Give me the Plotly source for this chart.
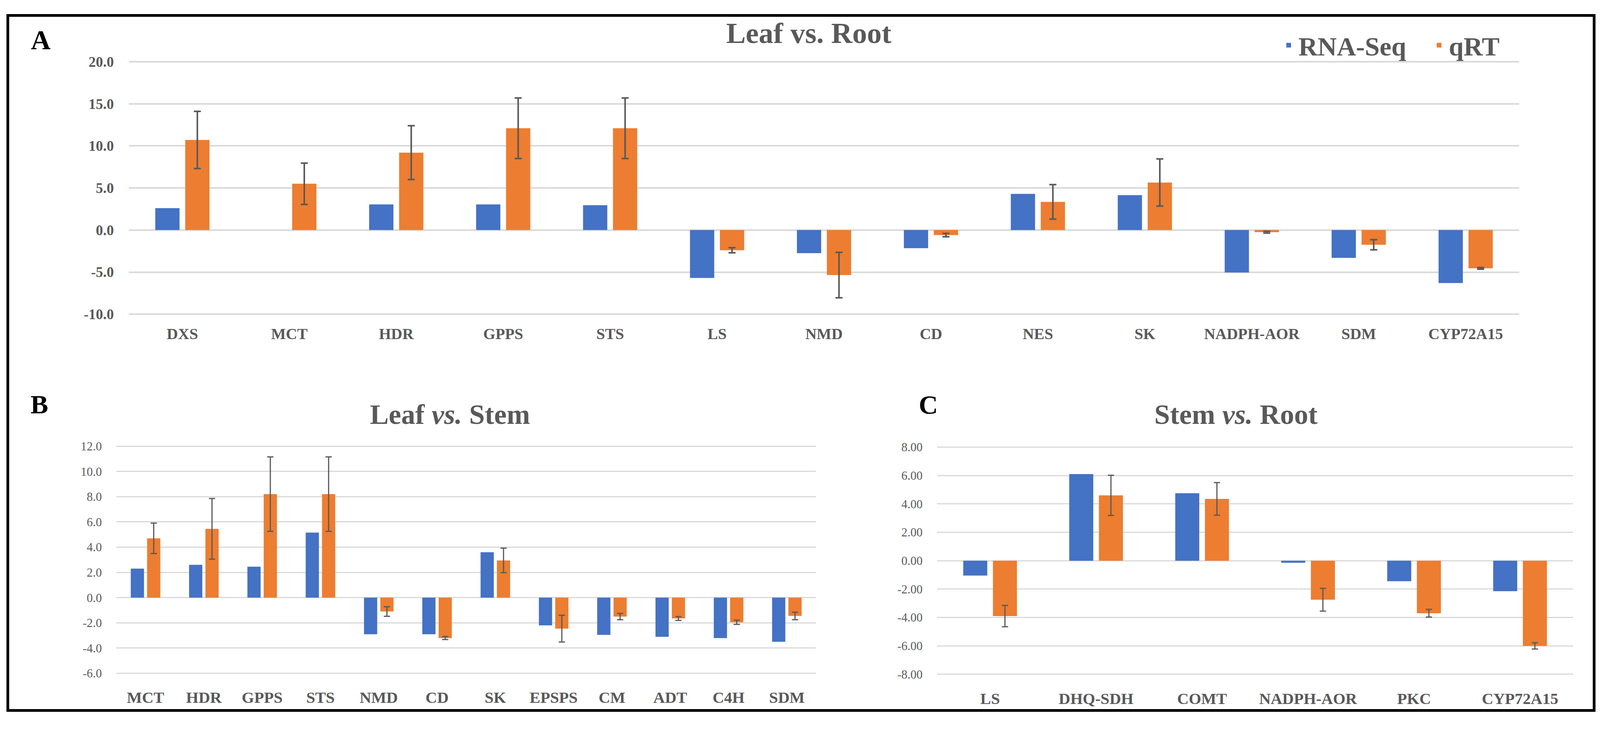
import plotly.graph_objects as go

W, H = 4104, 1866

# ---------------- data ----------------
series_names = ["RNA-Seq", "qRT"]
series_colors = ["#4472C4", "#ED7D31"]

# Panel A: Leaf vs. Root
a_genes = ["DXS", "MCT", "HDR", "GPPS", "STS", "LS", "NMD", "CD", "NES", "SK",
           "NADPH-AOR", "SDM", "CYP72A15"]
a_rnaseq = [2.6, 0.0, 3.05, 3.05, 2.95, -5.7, -2.75, -2.15, 4.3, 4.15, -5.05, -3.3, -6.3]
a_qrt = [10.7, 5.5, 9.2, 12.1, 12.1, -2.4, -5.35, -0.6, 3.35, 5.65, -0.25, -1.75, -4.55]
a_qrt_err = [3.4, 2.45, 3.2, 3.6, 3.6, 0.3, 2.7, 0.2, 2.05, 2.8, 0.1, 0.6, 0.1]
a_tickvals = [-10, -5, 0, 5, 10, 15, 20]
a_ticktext = ["-10.0", "-5.0", "0.0", "5.0", "10.0", "15.0", "20.0"]

# Panel B: Leaf vs. Stem
b_genes = ["MCT", "HDR", "GPPS", "STS", "NMD", "CD", "SK", "EPSPS", "CM", "ADT", "C4H", "SDM"]
b_rnaseq = [2.3, 2.6, 2.45, 5.15, -2.9, -2.9, 3.6, -2.2, -2.95, -3.1, -3.2, -3.5]
b_qrt = [4.7, 5.45, 8.2, 8.2, -1.1, -3.2, 2.95, -2.45, -1.5, -1.65, -1.95, -1.45]
b_qrt_err = [1.2, 2.4, 2.95, 2.95, 0.38, 0.12, 0.97, 1.06, 0.25, 0.15, 0.17, 0.3]
b_tickvals = [-6, -4, -2, 0, 2, 4, 6, 8, 10, 12]
b_ticktext = ["-6.0", "-4.0", "-2.0", "0.0", "2.0", "4.0", "6.0", "8.0", "10.0", "12.0"]

# Panel C: Stem vs. Root
c_genes = ["LS", "DHQ-SDH", "COMT", "NADPH-AOR", "PKC", "CYP72A15"]
c_rnaseq = [-1.05, 6.1, 4.75, -0.15, -1.45, -2.15]
c_qrt = [-3.9, 4.6, 4.35, -2.75, -3.7, -6.0]
c_qrt_err = [0.75, 1.42, 1.15, 0.8, 0.27, 0.22]
c_tickvals = [-8, -6, -4, -2, 0, 2, 4, 6, 8]
c_ticktext = ["-8.00", "-6.00", "-4.00", "-2.00", "0.00", "2.00", "4.00", "6.00", "8.00"]

# ---------------- helpers ----------------
SERIF = "Liberation Serif, Times New Roman, serif"
GRAY = "#595959"


def xdom(left_px, right_px):
    return [left_px / W, right_px / W]


def ydom(zero_px, ppu, lo, hi):
    top = zero_px - hi * ppu
    bot = zero_px - lo * ppu
    return [1 - bot / H, 1 - top / H], [lo, hi]


fig = go.Figure()

panels = [
    ("x", "y", a_genes, a_rnaseq, a_qrt, a_qrt_err, True, 4, 9),
    ("x2", "y2", b_genes, b_rnaseq, b_qrt, b_qrt_err, False, 3, 8),
    ("x3", "y3", c_genes, c_rnaseq, c_qrt, c_qrt_err, False, 3, 8),
]

for xa, ya, genes, rna, qrt, err, show, eth, ewid in panels:
    fig.add_trace(go.Bar(
        x=genes, y=rna, name=series_names[0], marker_color=series_colors[0],
        marker_line_width=0, xaxis=xa, yaxis=ya, showlegend=show,
        legendgroup=series_names[0]))
    fig.add_trace(go.Bar(
        x=genes, y=qrt, name=series_names[1], marker_color=series_colors[1],
        marker_line_width=0, xaxis=xa, yaxis=ya, showlegend=show,
        legendgroup=series_names[1],
        error_y=dict(type="data", array=err, visible=True, color=GRAY,
                     thickness=eth, width=ewid)))

ya_dom, ya_rng = ydom(582, 22.0, -10.05, 20.05)
yb_dom, yb_rng = ydom(1543, 33.0, -6.04, 12.04)
yc_dom, yc_rng = ydom(1446.4, 37.12, -8.04, 8.04)

common_y = dict(showline=False, zeroline=False, showgrid=True, gridcolor="#D9D9D9",
                ticks="outside", tickcolor="rgba(0,0,0,0)", ticklen=30)
common_x = dict(type="category", showline=False, zeroline=False, showgrid=False,
                ticks="outside", tickcolor="rgba(0,0,0,0)")

fig.update_layout(
    width=W, height=H,
    margin=dict(l=0, r=0, t=0, b=0),
    paper_bgcolor="white", plot_bgcolor="white",
    barmode="group", bargap=0.44, bargroupgap=0.19,
    font=dict(family=SERIF, color=GRAY),
    xaxis=dict(domain=xdom(330, 3889), anchor="y", ticklen=14,
               tickfont=dict(family=SERIF, size=40, color=GRAY, weight="bold"), **common_x),
    yaxis=dict(domain=ya_dom, range=ya_rng, anchor="x", gridwidth=4,
               tickvals=a_tickvals, ticktext=a_ticktext,
               tickfont=dict(family=SERIF, size=37, color=GRAY, weight="bold"), **common_y),
    xaxis2=dict(domain=xdom(298, 2089), anchor="y2", ticklen=24,
                tickfont=dict(family=SERIF, size=41, color=GRAY, weight="bold"), **common_x),
    yaxis2=dict(domain=yb_dom, range=yb_rng, anchor="x2", gridwidth=3,
                tickvals=b_tickvals, ticktext=b_ticktext,
                tickfont=dict(family=SERIF, size=31, color=GRAY), **common_y),
    xaxis3=dict(domain=xdom(2399, 4027), anchor="y3", ticklen=24,
                tickfont=dict(family=SERIF, size=41, color=GRAY, weight="bold"), **common_x),
    yaxis3=dict(domain=yc_dom, range=yc_rng, anchor="x3", gridwidth=3,
                tickvals=c_tickvals, ticktext=c_ticktext,
                tickfont=dict(family=SERIF, size=31, color=GRAY), **common_y),
    legend=dict(orientation="h", x=3274 / W, xanchor="left", y=1 - 99 / H, yanchor="middle",
                font=dict(family=SERIF, size=68, color=GRAY, weight="bold"),
                bgcolor="rgba(0,0,0,0)", itemwidth=40, traceorder="normal",
                entrywidth=330, entrywidthmode="pixels"),
    showlegend=True,
)

annots = [
    ("<b>Leaf vs. Root</b>", 2070, 67, 75, GRAY),
    ("<b>Leaf <i>vs.</i> Stem</b>", 1152, 1064, 72, GRAY),
    ("<b>Stem <i>vs.</i> Root</b>", 3164, 1064, 72, GRAY),
    ("<b>A</b>", 104, 85, 70, "black"),
    ("<b>B</b>", 100, 1038, 68, "black"),
    ("<b>C</b>", 2376, 1039, 68, "black"),
]
for text, px, py, size, color in annots:
    fig.add_annotation(text=text, x=px / W, y=1 - py / H, xref="paper", yref="paper",
                       xanchor="center", yanchor="middle", showarrow=False,
                       font=dict(family=SERIF, size=size, color=color))

# outer frame
fig.add_shape(type="rect", xref="paper", yref="paper",
              x0=20 / W, x1=4081 / W, y0=1 - 1838 / H, y1=1 - 21 / H,
              line=dict(color="black", width=7), fillcolor="rgba(0,0,0,0)")

fig.write_html("out.html", config={"displayModeBar": False},
               post_script="document.body.style.margin='0';document.body.style.overflow='hidden';")
